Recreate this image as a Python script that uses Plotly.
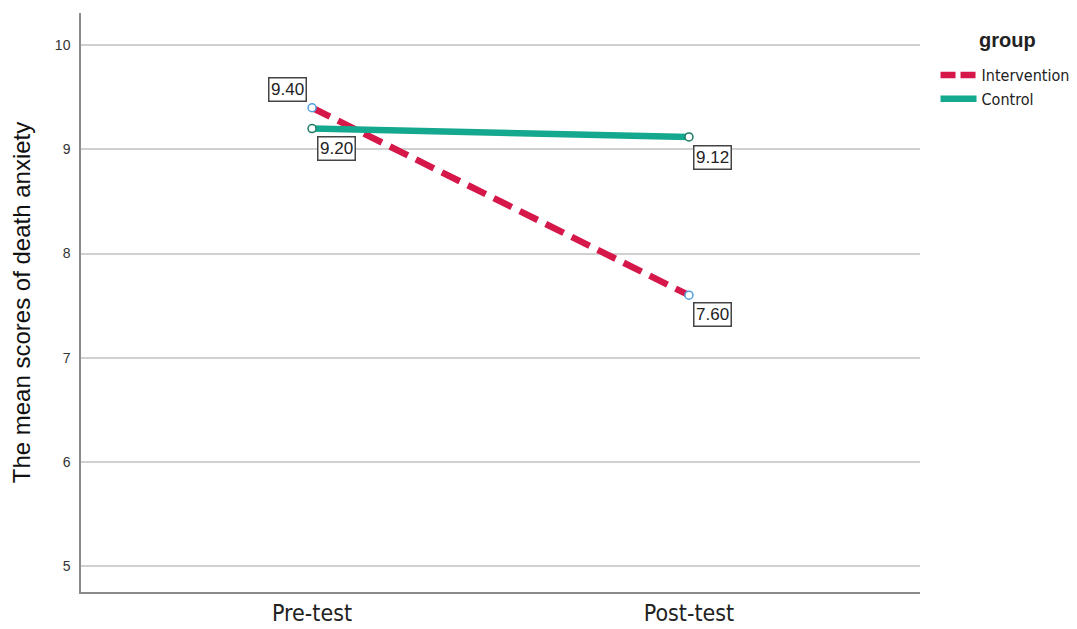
import plotly.graph_objects as go

categories = ["Pre-test", "Post-test"]
groups = ["Intervention", "Control"]
intervention = [9.40, 7.60]
control = [9.20, 9.12]
y_ticks = [5, 6, 7, 8, 9, 10]

colors = {"Intervention": "#d6174a", "Control": "#14a88e"}
marker_lines = {"Intervention": "#4f9fe0", "Control": "#1a7a66"}
dashes = {"Intervention": "20px,9px", "Control": "solid"}
series = {"Intervention": intervention, "Control": control}

fig = go.Figure()
xs = [0, 1]
for g in groups:
    fig.add_trace(go.Scatter(
        x=xs, y=series[g], mode="lines+markers", name=g, showlegend=False,
        line=dict(color=colors[g], width=6.5, dash=dashes[g]),
        marker=dict(size=8, color="white", line=dict(color=marker_lines[g], width=1.5)),
    ))
# legend-only entries (lines without markers)
for g in groups:
    fig.add_trace(go.Scatter(
        x=[None], y=[None], mode="lines", name=g,
        line=dict(color=colors[g], width=6.5, dash="15px,5px" if g == "Intervention" else "solid"),
    ))

offsets = {("Intervention", 0): (-25, 18), ("Intervention", 1): (24, -19),
           ("Control", 0): (24, -20), ("Control", 1): (24, -21)}
for g in groups:
    for i, v in enumerate(series[g]):
        dx, dy = offsets[(g, i)]
        fig.add_annotation(x=xs[i], y=v, text=f"{v:.2f}", showarrow=False,
                           xshift=dx, yshift=dy, bordercolor="#444444", borderwidth=1.5,
                           borderpad=1.5, bgcolor="white",
                           font=dict(family="Liberation Sans, Arial", size=17, color="#222222"))

# legend title as annotation
fig.add_annotation(xref="paper", yref="paper", x=1.104, y=0.953, text="<b>group</b>",
                   xanchor="center", yanchor="middle",
                   showarrow=False, font=dict(size=20, color="#222222"))

fig.update_layout(
    width=1069, height=621,
    margin=dict(l=73, r=157, t=5, b=37, autoexpand=False),
    plot_bgcolor="white", paper_bgcolor="white",
    font=dict(family="Liberation Sans, Arial", color="#222222"),
    showlegend=True,
    legend=dict(
        x=1.0185, y=0.922, xanchor="left", yanchor="top",
        font=dict(size=16, color="#222222", family="DejaVu Sans Condensed, Liberation Sans"),
        tracegroupgap=0, itemwidth=36,
    ),
    xaxis=dict(
        range=[-0.613, 1.613], tickvals=xs, ticktext=categories, automargin=False,
        showgrid=False, zeroline=False, showline=True, linecolor="#8a8a8a", linewidth=1.5,
        ticks="", tickfont=dict(size=23, color="#222222", family="DejaVu Sans Condensed, Liberation Sans"),
        ticklabelstandoff=0,
    ),
    yaxis=dict(
        range=[4.75, 10.31], tickvals=y_ticks, automargin=False,
        showgrid=True, gridcolor="#d0d0d0", gridwidth=1.5, zeroline=False,
        showline=True, linecolor="#8a8a8a", linewidth=1.5,
        ticks="", tickfont=dict(size=14, color="#333333"), ticklabelstandoff=6,
        title=dict(text="The mean scores of death anxiety", font=dict(size=24, color="#111111"), standoff=34),
    ),
)

fig.write_html("out.html")
